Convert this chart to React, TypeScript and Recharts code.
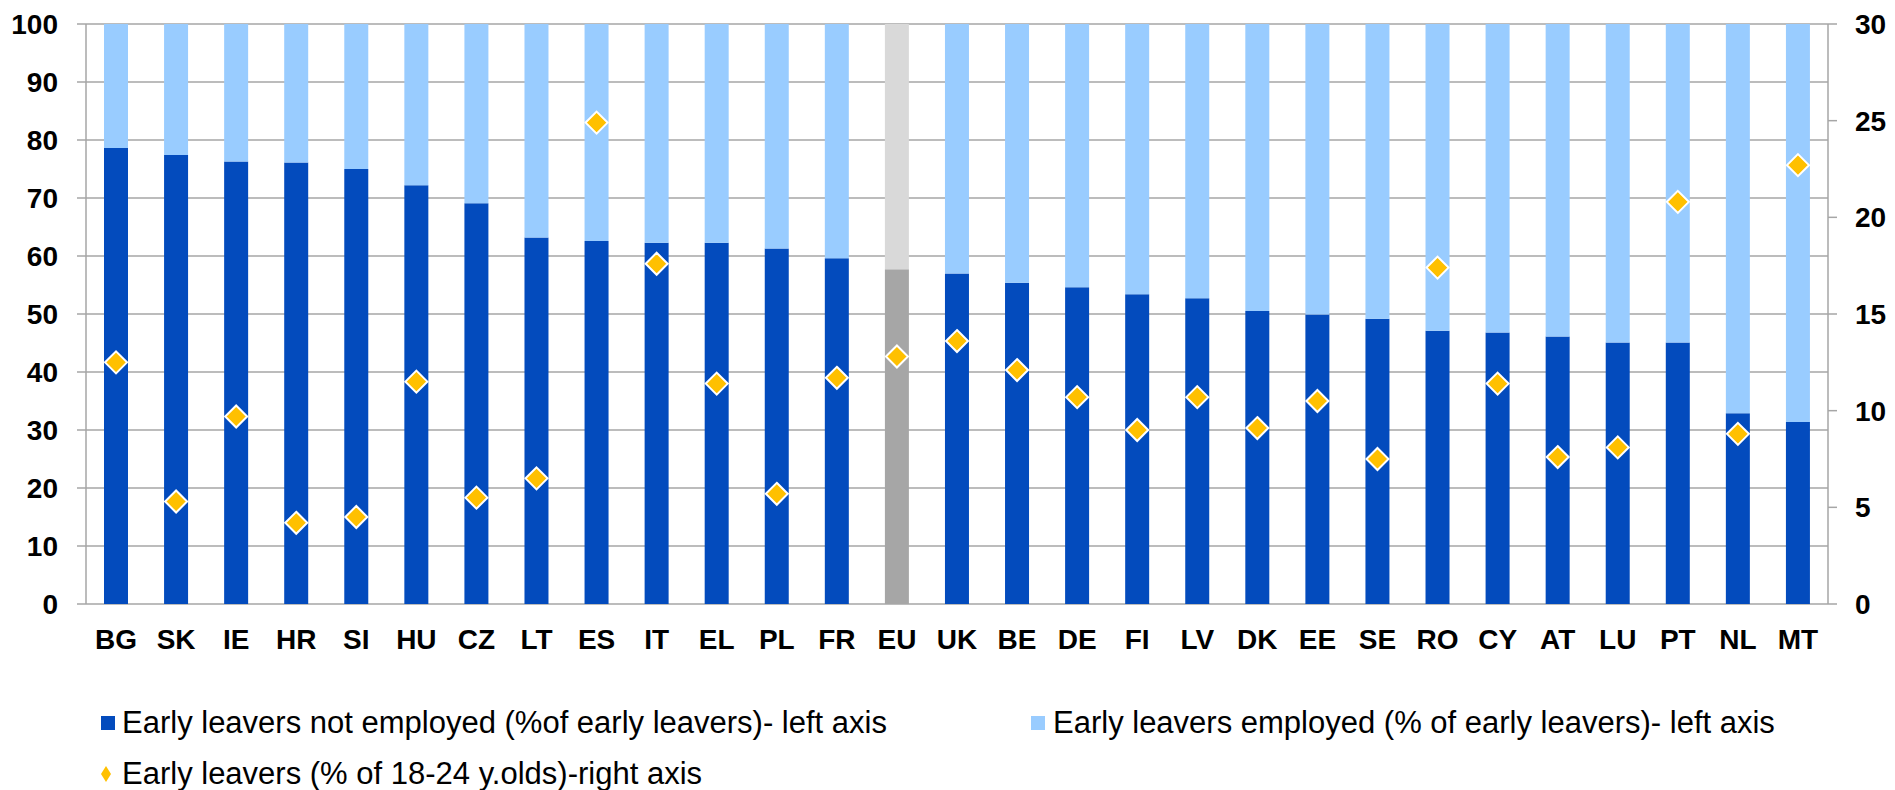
import React from "react";
import {
  ComposedChart, Bar, Line, XAxis, YAxis, CartesianGrid, Cell,
} from "recharts";

const countries = [
  "BG", "SK", "IE", "HR", "SI", "HU", "CZ", "LT", "ES", "IT", "EL", "PL", "FR", "EU",
  "UK", "BE", "DE", "FI", "LV", "DK", "EE", "SE", "RO", "CY", "AT", "LU", "PT", "NL", "MT",
];

// % of early leavers not employed (left axis)
const notEmployed = [
  78.6, 77.4, 76.3, 76.1, 75.0, 72.2, 69.1, 63.2, 62.6, 62.3, 62.3, 61.3, 59.6, 57.7,
  57.0, 55.4, 54.6, 53.4, 52.7, 50.5, 49.9, 49.2, 47.1, 46.8, 46.1, 45.1, 45.1, 32.9, 31.4,
];

// early leavers as % of 18-24 year olds (right axis)
const earlyLeavers = [
  12.5, 5.3, 9.7, 4.2, 4.5, 11.5, 5.5, 6.5, 24.9, 17.6, 11.4, 5.7, 11.7, 12.8,
  13.6, 12.1, 10.7, 9.0, 10.7, 9.1, 10.5, 7.5, 17.4, 11.4, 7.6, 8.1, 20.8, 8.8, 22.7,
];

const leftTicks = [0, 10, 20, 30, 40, 50, 60, 70, 80, 90, 100];
const rightTicks = [0, 5, 10, 15, 20, 25, 30];
const edgeTicks = countries.map((_, i) => i).concat([countries.length]);

const data = countries.map((c, i) => ({
  country: c,
  notEmployed: notEmployed[i],
  employed: +(100 - notEmployed[i]).toFixed(1),
  earlyLeavers: earlyLeavers[i],
}));

const DARK = "#034BBD";
const LIGHT = "#99CCFF";
const GOLD = "#FFC000";
const GRID = "#A6A6A6";
const FONT = '"Liberation Sans", Arial, sans-serif';

const tickStyle = { fill: "#000", fontSize: 28, fontWeight: 700, fontFamily: FONT };

const Diamond = (props: any) => {
  const { cx, cy } = props;
  if (cx == null || cy == null) return null;
  const r = 11;
  return (
    <polygon
      points={`${cx},${cy - r} ${cx + r},${cy} ${cx},${cy + r} ${cx - r},${cy}`}
      fill={GOLD}
      stroke="#fff"
      strokeWidth={2}
    />
  );
};

const legendText: React.CSSProperties = {
  position: "absolute", fontSize: 31, fontFamily: FONT, color: "#000",
  whiteSpace: "nowrap", lineHeight: "40px", height: 40,
};

export default function App() {
  return (
    <div style={{ position: "absolute", left: 0, top: 0, width: 1895, height: 790, background: "#fff" }}>
      <ComposedChart
        width={1895}
        height={790}
        data={data}
        margin={{ top: 24, right: 0, bottom: 146, left: 0 }}
      >
        <CartesianGrid yAxisId="left" vertical={false} stroke={GRID} strokeWidth={1.5} />
        <XAxis
          xAxisId="edge"
          type="number"
          domain={[0, countries.length]}
          allowDataOverflow
          ticks={edgeTicks}
          tick={false}
          height={0}
          tickSize={9}
          axisLine={{ stroke: GRID, strokeWidth: 1.5 }}
          tickLine={{ stroke: GRID, strokeWidth: 1.5 }}
        />
        <XAxis
          xAxisId="cat"
          dataKey="country"
          interval={0}
          height={40}
          tickSize={0}
          tickMargin={25}
          axisLine={false}
          tickLine={false}
          tick={tickStyle}
        />
        <YAxis
          yAxisId="left"
          domain={[0, 100]}
          ticks={leftTicks}
          width={86}
          tickSize={9}
          tickMargin={19}
          axisLine={{ stroke: GRID, strokeWidth: 1.5 }}
          tickLine={{ stroke: GRID, strokeWidth: 1.5 }}
          tick={tickStyle}
        />
        <YAxis
          yAxisId="right"
          orientation="right"
          domain={[0, 30]}
          ticks={rightTicks}
          width={67}
          tickSize={9}
          tickMargin={18}
          axisLine={{ stroke: GRID, strokeWidth: 1.5 }}
          tickLine={{ stroke: GRID, strokeWidth: 1.5 }}
          tick={tickStyle}
        />
        <Bar xAxisId="cat" yAxisId="left" dataKey="notEmployed" stackId="a" barSize={24} isAnimationActive={false}>
          {data.map((d) => (
            <Cell key={d.country} fill={d.country === "EU" ? "#A6A6A6" : DARK} />
          ))}
        </Bar>
        <Bar xAxisId="cat" yAxisId="left" dataKey="employed" stackId="a" barSize={24} isAnimationActive={false}>
          {data.map((d) => (
            <Cell key={d.country} fill={d.country === "EU" ? "#D9D9D9" : LIGHT} />
          ))}
        </Bar>
        <Line
          xAxisId="cat"
          yAxisId="right"
          dataKey="earlyLeavers"
          stroke="none"
          dot={<Diamond />}
          activeDot={false}
          isAnimationActive={false}
        />
      </ComposedChart>

      <div style={{ position: "absolute", left: 101, top: 716, width: 14, height: 14, background: DARK }} />
      <div style={{ ...legendText, left: 122, top: 703 }}>
        Early leavers not employed (%of early leavers)- left axis
      </div>
      <div style={{ position: "absolute", left: 1031, top: 716, width: 14, height: 14, background: LIGHT }} />
      <div style={{ ...legendText, left: 1053, top: 703 }}>
        Early leavers employed (% of early leavers)- left axis
      </div>
      <svg style={{ position: "absolute", left: 100, top: 765 }} width={12} height={18}>
        <polygon points="6,1 11,9 6,17 1,9" fill={GOLD} />
      </svg>
      <div style={{ ...legendText, left: 122, top: 754 }}>
        Early leavers (% of 18-24 y.olds)-right axis
      </div>
    </div>
  );
}
